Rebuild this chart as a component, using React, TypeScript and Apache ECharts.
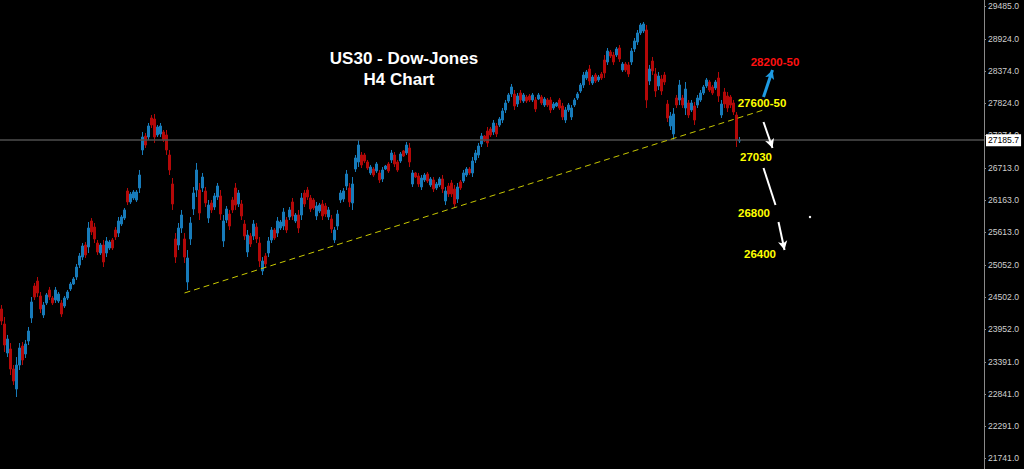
import React, { useEffect, useRef } from 'react';
import * as echarts from 'echarts';

// 3-pixel time slots across the plot (bars fill the left part, the rest is empty space)
const slotCount = 328;
const slots: string[] = Array.from({ length: slotCount }, (_, i) => String(i));

// right-hand price scale labels
const yTicks = [21741, 22291, 22841, 23391, 23952, 24502, 25052, 25613, 26163, 26713, 27274, 27824, 28374, 28924, 29485];
const yMin = 21554;
const yMax = 29588;

// H4 candles: [open, close, low, high]
const ohlc: number[][] = [
  [24295, 24089, 24021, 24363], [24038, 23678, 23558, 24158], [23541, 23781, 23472, 23850], [23610, 23267, 23164, 23712],
  [23267, 23061, 22993, 23335], [22924, 23335, 22787, 23472], [23335, 23627, 23250, 23712], [23661, 23421, 23335, 23730],
  [23524, 23695, 23455, 23764], [23747, 23918, 23678, 23987], [24141, 24415, 24055, 24500], [24689, 24500, 24449, 24740],
  [24774, 24569, 24500, 24843], [24518, 24295, 24226, 24586], [24192, 24363, 24141, 24415], [24398, 24535, 24363, 24569],
  [24620, 24500, 24449, 24672], [24483, 24398, 24363, 24518], [24449, 24620, 24398, 24672], [24432, 24552, 24398, 24586],
  [24398, 24209, 24158, 24449], [24346, 24483, 24312, 24518], [24483, 24586, 24449, 24620], [24637, 24723, 24603, 24757],
  [24723, 24809, 24706, 24843], [24843, 25014, 24792, 25066], [25048, 25203, 24997, 25254], [25185, 25374, 25134, 25425],
  [25391, 25220, 25168, 25442], [25357, 25682, 25254, 25785], [25802, 25614, 25562, 25853], [25699, 25494, 25425, 25768],
  [25425, 25271, 25220, 25477], [25254, 25391, 25220, 25425], [25391, 25100, 25014, 25477], [25254, 25460, 25185, 25528],
  [25340, 25442, 25305, 25477], [25477, 25340, 25305, 25511], [25648, 25528, 25477, 25699], [25596, 25802, 25528, 25871],
  [25751, 25871, 25716, 25905], [25853, 25991, 25819, 26025], [26316, 26128, 26076, 26368], [26128, 26265, 26094, 26299],
  [26196, 26299, 26162, 26333], [26162, 26299, 26128, 26333], [26368, 26590, 26282, 26676], [27019, 27241, 26933, 27327],
  [27258, 27104, 27053, 27310], [27241, 27430, 27190, 27481], [27567, 27447, 27395, 27618], [27549, 27241, 27139, 27635],
  [27276, 27413, 27241, 27447], [27293, 27430, 27241, 27481], [27327, 27190, 27156, 27361], [27276, 27019, 26933, 27361],
  [26933, 26676, 26590, 27019], [26436, 26094, 25991, 26539], [25494, 25185, 25083, 25596], [25391, 25682, 25305, 25768],
  [25682, 25905, 25596, 25991], [25494, 25185, 25083, 25596], [24757, 25168, 24620, 25305], [25494, 25768, 25391, 25871],
  [26008, 26282, 25905, 26385], [26333, 26676, 26213, 26796], [26333, 25939, 25819, 26453], [26368, 26556, 26299, 26625],
  [26316, 26111, 26042, 26385], [25853, 26076, 25768, 26162], [26111, 25991, 25939, 26162], [26042, 26231, 25991, 26282],
  [26213, 26402, 26162, 26453], [26231, 25922, 25819, 26333], [25460, 25802, 25357, 25905], [25819, 26008, 25768, 26059],
  [25922, 25716, 25648, 25991], [26162, 25991, 25939, 26213], [26368, 26076, 25991, 26453], [26094, 26282, 26042, 26333],
  [26094, 25888, 25819, 26162], [25751, 25545, 25477, 25819], [25271, 25562, 25185, 25648], [25545, 25408, 25357, 25596],
  [25545, 25751, 25477, 25819], [25699, 25494, 25425, 25768], [25425, 25117, 25014, 25528], [24946, 25117, 24877, 25185],
  [25203, 25066, 25014, 25254], [25254, 25460, 25185, 25528], [25477, 25648, 25425, 25699], [25648, 25511, 25477, 25682],
  [25596, 25802, 25528, 25871], [25682, 25785, 25648, 25819], [25716, 25956, 25648, 26025], [25819, 25648, 25596, 25871],
  [25871, 25991, 25819, 26042], [26128, 25888, 25819, 26196], [25802, 25905, 25768, 25939], [25905, 25682, 25596, 25991],
  [25905, 26196, 25819, 26282], [26282, 26094, 26042, 26333], [26333, 26213, 26162, 26385], [26196, 26008, 25956, 26248],
  [26162, 26025, 25991, 26196], [25888, 26059, 25819, 26128], [25974, 26076, 25939, 26111], [26094, 25888, 25819, 26162],
  [26059, 25922, 25871, 26111], [25871, 25991, 25819, 26042], [25836, 25665, 25596, 25905], [25477, 25648, 25425, 25699],
  [25716, 25922, 25648, 25991], [26162, 26282, 26111, 26333], [26179, 26316, 26128, 26368], [26402, 26607, 26333, 26676],
  [26368, 26128, 26042, 26453], [26111, 26436, 25991, 26556], [26693, 26882, 26642, 26933], [26813, 27104, 26727, 27190],
  [26933, 26762, 26710, 26984], [26933, 26830, 26796, 26967], [26813, 26710, 26676, 26847], [26625, 26727, 26590, 26762],
  [26693, 26590, 26556, 26727], [26659, 26779, 26625, 26813], [26625, 26505, 26453, 26676], [26522, 26676, 26470, 26727],
  [26693, 26744, 26676, 26762], [26779, 26659, 26625, 26813], [26847, 26967, 26796, 27019], [26933, 26779, 26727, 26984],
  [26813, 26676, 26642, 26847], [26830, 26950, 26796, 26984], [27002, 26916, 26899, 27019], [26967, 27104, 26933, 27156],
  [27053, 26813, 26727, 27139], [26436, 26625, 26385, 26676], [26625, 26556, 26539, 26642], [26573, 26436, 26385, 26625],
  [26385, 26539, 26333, 26590], [26505, 26590, 26470, 26625], [26607, 26487, 26453, 26642], [26419, 26522, 26385, 26556],
  [26505, 26350, 26299, 26556], [26368, 26436, 26333, 26470], [26419, 26522, 26385, 26556], [26522, 26350, 26282, 26590],
  [26145, 26316, 26076, 26385], [26402, 26265, 26213, 26453], [26453, 26265, 26213, 26505], [26350, 26094, 26025, 26419],
  [26179, 26385, 26111, 26453], [26470, 26368, 26333, 26505], [26487, 26625, 26453, 26676], [26590, 26693, 26556, 26727],
  [26693, 26625, 26590, 26727], [26625, 26830, 26556, 26899], [26847, 26967, 26796, 27019], [26933, 27087, 26882, 27139],
  [27121, 27258, 27070, 27310], [27258, 27173, 27156, 27276], [27344, 27139, 27070, 27413], [27378, 27276, 27241, 27413],
  [27327, 27481, 27276, 27532], [27430, 27293, 27241, 27481], [27447, 27549, 27413, 27584], [27532, 27687, 27481, 27738],
  [27704, 27824, 27652, 27875], [27858, 27961, 27824, 27995], [27978, 28098, 27926, 28149], [27978, 27772, 27704, 28046],
  [27806, 27944, 27755, 27995], [27995, 27875, 27824, 28046], [27858, 27961, 27824, 27995], [27926, 27858, 27824, 27961],
  [27944, 27875, 27841, 27978], [27875, 27961, 27841, 27995], [27875, 27721, 27669, 27926], [27892, 27961, 27875, 27995],
  [27926, 27824, 27789, 27961], [27789, 27892, 27755, 27926], [27875, 27789, 27755, 27909], [27875, 27704, 27652, 27926],
  [27738, 27806, 27704, 27841], [27772, 27824, 27755, 27841], [27875, 27738, 27704, 27909], [27772, 27584, 27532, 27824],
  [27532, 27704, 27481, 27755], [27704, 27789, 27669, 27824], [27584, 27738, 27532, 27789], [27789, 27875, 27755, 27909],
  [27909, 27978, 27875, 28012], [28029, 28132, 27995, 28166], [28132, 28303, 28081, 28355], [28252, 28355, 28218, 28389],
  [28406, 28200, 28132, 28475], [28166, 28269, 28132, 28303], [28303, 28200, 28166, 28338], [28218, 28269, 28183, 28303],
  [28320, 28252, 28218, 28355], [28560, 28338, 28252, 28646], [28526, 28714, 28475, 28766], [28697, 28629, 28594, 28732],
  [28646, 28526, 28475, 28697], [28646, 28749, 28612, 28783], [28766, 28577, 28526, 28817], [28389, 28491, 28355, 28526],
  [28491, 28389, 28355, 28526], [28475, 28320, 28269, 28526], [28526, 28714, 28475, 28766], [28749, 28886, 28697, 28937],
  [28869, 29023, 28817, 29074], [29023, 29160, 28988, 29194], [29057, 29177, 29023, 29211], [29074, 27875, 27738, 29160],
  [28200, 28406, 28132, 28475], [28543, 28372, 28303, 28612], [28320, 28029, 27926, 28423], [28115, 28286, 28046, 28355],
  [28235, 28029, 27961, 28303], [28303, 28183, 28132, 28355], [27806, 27567, 27498, 27875], [27430, 27601, 27361, 27669],
  [27293, 27635, 27190, 27738], [27909, 27789, 27738, 27961], [27875, 28132, 27789, 28218], [27909, 27789, 27738, 27961],
  [27738, 28063, 27618, 28183], [27824, 27618, 27567, 27875], [27704, 27824, 27669, 27875], [27772, 27532, 27447, 27841],
  [27789, 27909, 27738, 27961], [27875, 27995, 27841, 28046], [27995, 28098, 27961, 28132], [28115, 28218, 28081, 28252],
  [28183, 28046, 28012, 28218], [28098, 27995, 27961, 28132], [28081, 28183, 28046, 28218], [28252, 27944, 27841, 28355],
  [27618, 27806, 27567, 27875], [28012, 27806, 27738, 28081], [27944, 27738, 27669, 28012], [27926, 27789, 27738, 27961],
  [27824, 27669, 27618, 27875], [27618, 27190, 27070, 27669], [27173, 27185.7, 27139, 27241],
];

const lastPrice = 27185.7;

// annotation lines in [slot, price]
const trendLine = [[61, 24569], [254, 27704]];
const blueArrow = [[254, 27926], [257, 28389]];
const whiteArrow1 = [[254, 27498], [257, 27053]];
const whiteLine2 = [[254, 26710], [258, 26076]];
const whiteArrow3 = [[259, 25785], [261, 25305]];

const titleLines = ['US30 - Dow-Jones', 'H4 Chart'];
const levelTexts = ['28200-50', '27600-50', '27030', '26800', '26400'];

const UP = '#177bba';
const DOWN = '#b40808';
const YELLOW = '#ffff00';
const AXIS_FONT = "'Liberation Sans', Arial, sans-serif";

function seg(a: number[], b: number[], color: string, width: number, arrow: boolean, dashed = false) {
  const ls = { color, width, type: dashed ? [6, 4] : 'solid' };
  return [
    { coord: a, symbol: 'none', lineStyle: ls },
    { coord: b, symbol: arrow ? 'arrow' : 'none', symbolSize: [7, 9], lineStyle: ls },
  ];
}

export default function App() {
  const ref = useRef<HTMLDivElement>(null);
  useEffect(() => {
    document.body.style.margin = '0';
    document.body.style.background = '#000';
    const chart = echarts.init(ref.current!, null, { renderer: 'svg' });
    const textFont = (size: number) => `bold ${size}px 'Liberation Sans', Arial, sans-serif`;
    chart.setOption({
      animation: false,
      backgroundColor: '#000',
      grid: { left: 0, right: 40, top: 0, bottom: 0 },
      xAxis: { type: 'category', data: slots, show: false, boundaryGap: true },
      yAxis: {
        type: 'value',
        position: 'right',
        min: yMin,
        max: yMax,
        splitLine: { show: false },
        axisLine: { show: true, lineStyle: { color: '#8a8a8a', width: 1 } },
        axisTick: { show: true, length: 2, customValues: yTicks, lineStyle: { color: '#8a8a8a' } },
        axisLabel: {
          customValues: yTicks,
          formatter: (v: number) => v.toFixed(1),
          color: '#cfcfcf',
          fontSize: 8.6,
          fontFamily: AXIS_FONT,
          margin: 4,
        },
      },
      series: [
        {
          type: 'candlestick',
          data: ohlc,
          barWidth: 1.7,
          itemStyle: { color: UP, color0: DOWN, borderColor: UP, borderColor0: DOWN, borderWidth: 1 },
          markLine: {
            silent: true,
            symbol: ['none', 'none'],
            label: { show: false },
            data: [
              {
                yAxis: lastPrice,
                lineStyle: { color: '#4e4e4e', width: 1.5, type: 'solid' },
                label: {
                  show: true,
                  position: 'end',
                  formatter: '27185.7',
                  color: '#000',
                  backgroundColor: '#fff',
                  fontSize: 8.6,
                  fontFamily: AXIS_FONT,
                  padding: [2, 2, 1, 2],
                  distance: 2,
                },
              },
              seg(trendLine[0], trendLine[1], '#c8c800', 1, false, true),
              seg(blueArrow[0], blueArrow[1], '#1e9be2', 3, true),
              seg(whiteArrow1[0], whiteArrow1[1], '#ffffff', 2, true),
              seg(whiteLine2[0], whiteLine2[1], '#ffffff', 2, false),
              seg(whiteArrow3[0], whiteArrow3[1], '#ffffff', 2, true),
            ],
          },
        },
      ],
      graphic: [
        { type: 'text', x: 404, y: 58, style: { text: titleLines[0], fill: '#fff', font: textFont(17), textAlign: 'center', textVerticalAlign: 'middle' } },
        { type: 'text', x: 399, y: 79, style: { text: titleLines[1], fill: '#fff', font: textFont(17), textAlign: 'center', textVerticalAlign: 'middle' } },
        { type: 'text', x: 775, y: 62, style: { text: levelTexts[0], fill: '#ff1010', font: textFont(11.5), textAlign: 'center', textVerticalAlign: 'middle' } },
        { type: 'text', x: 762, y: 103, style: { text: levelTexts[1], fill: YELLOW, font: textFont(11.5), textAlign: 'center', textVerticalAlign: 'middle' } },
        { type: 'text', x: 756, y: 157, style: { text: levelTexts[2], fill: YELLOW, font: textFont(11.5), textAlign: 'center', textVerticalAlign: 'middle' } },
        { type: 'text', x: 754, y: 213, style: { text: levelTexts[3], fill: YELLOW, font: textFont(11.5), textAlign: 'center', textVerticalAlign: 'middle' } },
        { type: 'text', x: 760, y: 254, style: { text: levelTexts[4], fill: YELLOW, font: textFont(11.5), textAlign: 'center', textVerticalAlign: 'middle' } },
        { type: 'circle', shape: { cx: 810, cy: 217, r: 1.2 }, style: { fill: '#fff' } },
      ],
    });
    return () => chart.dispose();
  }, []);
  return (
    <div
      ref={ref}
      style={{ position: 'fixed', left: 0, top: 0, width: 1024, height: 469, background: '#000' }}
    />
  );
}
